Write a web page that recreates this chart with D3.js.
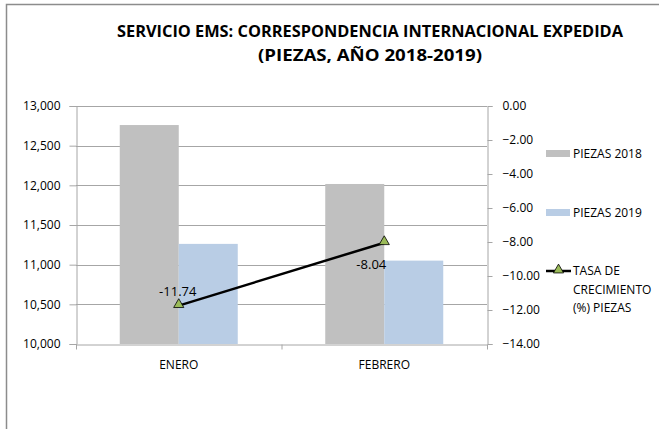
<!DOCTYPE html>
<html><head><meta charset="utf-8">
<script src="https://cdn.jsdelivr.net/npm/d3@7"></script>
<style>body{margin:0;background:#fff}svg{display:block}text{font-family:"Open Sans",sans-serif}</style>
</head><body><svg id="c" width="659" height="429"></svg>
<script>
const categories = ["ENERO", "FEBRERO"];
const piezas2018 = [12760, 12017];
const piezas2019 = [11262, 11051];
const tasa = [-11.74, -8.04];
const leftTicks = [10000, 10500, 11000, 11500, 12000, 12500, 13000];
const rightTicks = [0, -2, -4, -6, -8, -10, -12, -14];
const seriesNames = ["PIEZAS 2018", "PIEZAS 2019", "TASA DE CRECIMIENTO (%) PIEZAS"];

const svg = d3.select("#c");
const FONT = "'Open Sans',sans-serif";
const L = 76, R = 487, T = 106, B = 344;
const x = d3.scaleBand().domain(categories).range([L, R]).paddingInner(0).paddingOuter(0);
const yL = d3.scaleLinear().domain([10000, 13000]).range([B, T]);
const yR = d3.scaleLinear().domain([-14, 0]).range([B, T]);
const grey = "#c0c0c0", blue = "#b9cde5", gridC = "#a6a6a6", axisC = "#a6a6a6";

// frame
svg.append("path").attr("d", "M6.5,429 V4.5 H659").attr("fill", "none").attr("stroke", "#8c8c8c").attr("stroke-width", 1.5);

// title
const title = svg.append("text").attr("text-anchor", "middle").attr("font-weight", "bold").attr("font-size", 15.5).attr("fill", "#000");
title.append("tspan").attr("x", 370).attr("y", 37).attr("textLength", 506).attr("lengthAdjust", "spacingAndGlyphs").text("SERVICIO EMS: CORRESPONDENCIA INTERNACIONAL EXPEDIDA");
title.append("tspan").attr("x", 370).attr("y", 61).attr("textLength", 224).attr("lengthAdjust", "spacingAndGlyphs").text("(PIEZAS, AÑO 2018-2019)");

// gridlines
svg.append("g").selectAll("line").data(leftTicks.slice(1)).join("line")
  .attr("x1", L).attr("x2", R).attr("y1", d => Math.round(yL(d)) + 0.5).attr("y2", d => Math.round(yL(d)) + 0.5)
  .attr("stroke", gridC).attr("stroke-width", 1);

// bars
const bw = 59;
const bars = svg.append("g");
bars.selectAll(".b18").data(categories).join("rect")
  .attr("x", d => x(d) + x.bandwidth() / 2 - bw).attr("width", bw)
  .attr("y", (d, i) => yL(piezas2018[i])).attr("height", (d, i) => B - yL(piezas2018[i]))
  .attr("fill", grey);
bars.selectAll(".b19").data(categories).join("rect")
  .attr("x", d => x(d) + x.bandwidth() / 2).attr("width", bw)
  .attr("y", (d, i) => yL(piezas2019[i])).attr("height", (d, i) => B - yL(piezas2019[i]))
  .attr("fill", blue);

// axes
const gl = svg.append("g").attr("transform", `translate(${L + 0.5},0)`)
  .call(d3.axisLeft(yL).tickValues(leftTicks).tickFormat(d3.format(",")).tickSize(7).tickPadding(9));
const gr = svg.append("g").attr("transform", `translate(${R + 0.5},0)`)
  .call(d3.axisRight(yR).tickValues(rightTicks).tickFormat(d3.format(".2f")).tickSize(5).tickPadding(10));
const gx = svg.append("g").attr("transform", `translate(0,${B + 0.5})`)
  .call(d3.axisBottom(x).tickSize(0).tickPadding(16));
[gl, gr, gx].forEach(g => {
  g.select(".domain").attr("stroke", axisC);
  g.selectAll(".tick line").attr("stroke", axisC);
  g.selectAll("text").attr("font-size", 12).attr("fill", "#000").attr("font-family", FONT);
});
// category boundary ticks
gx.append("g").selectAll("line").data([L, x(categories[1]), R]).join("line")
  .attr("x1", d => d + 0.5).attr("x2", d => d + 0.5).attr("y1", 0).attr("y2", 5).attr("stroke", axisC);

// line
const pts = categories.map((c, i) => [x(c) + x.bandwidth() / 2, yR(tasa[i])]);
svg.append("path").attr("d", d3.line()(pts)).attr("fill", "none").attr("stroke", "#000").attr("stroke-width", 2.5);
const tri = d3.symbol().type(d3.symbolTriangle).size(45);
svg.append("g").selectAll("path").data(pts).join("path")
  .attr("d", tri).attr("transform", d => `translate(${d[0]},${d[1] - 1})`)
  .attr("fill", "#9bbb59").attr("stroke", "#000").attr("stroke-width", 0.8);
// labels
const labOff = [[-1, -10, "middle"], [2, 26, "end"]];
svg.append("g").selectAll("text").data(pts).join("text")
  .attr("x", (d, i) => d[0] + labOff[i][0]).attr("y", (d, i) => d[1] + labOff[i][1])
  .attr("text-anchor", (d, i) => labOff[i][2]).attr("font-size", 13).attr("fill", "#000")
  .text((d, i) => tasa[i].toFixed(2));

// legend
const lg = svg.append("g");
lg.append("rect").attr("x", 546).attr("y", 150).attr("width", 24).attr("height", 7).attr("fill", grey);
lg.append("text").attr("x", 573).attr("y", 158).attr("font-size", 12).text(seriesNames[0]);
lg.append("rect").attr("x", 546).attr("y", 209).attr("width", 24).attr("height", 7).attr("fill", blue);
lg.append("text").attr("x", 573).attr("y", 217).attr("font-size", 12).text(seriesNames[1]);
lg.append("line").attr("x1", 546).attr("x2", 571).attr("y1", 271).attr("y2", 271).attr("stroke", "#000").attr("stroke-width", 2.5);
lg.append("path").attr("d", tri).attr("transform", "translate(558.5,270)").attr("fill", "#9bbb59").attr("stroke", "#000").attr("stroke-width", 0.8);
const lt = lg.append("text").attr("font-size", 12);
lt.append("tspan").attr("x", 573).attr("y", 275).text("TASA DE");
lt.append("tspan").attr("x", 573).attr("y", 294).text("CRECIMIENTO");
lt.append("tspan").attr("x", 573).attr("y", 312).text("(%) PIEZAS");
</script></body></html>
